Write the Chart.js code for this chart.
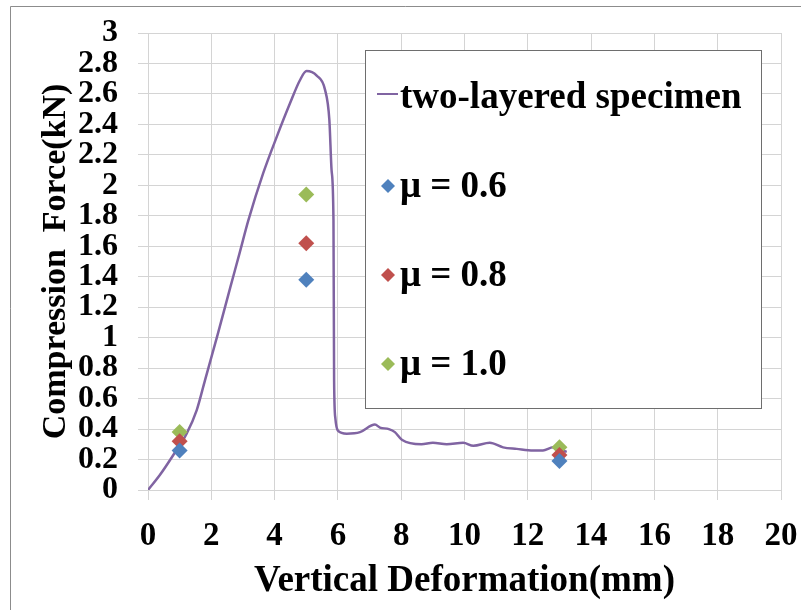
<!DOCTYPE html>
<html>
<head>
<meta charset="utf-8">
<script src="https://cdn.jsdelivr.net/npm/chart.js@4"></script>
<style>
  body { margin: 0; background: #fff; }
  #wrap { width: 801px; height: 610px; }
</style>
</head>
<body>
<div id="wrap"><canvas id="forceChart" width="801" height="610"></canvas></div>
<script>
// two-layered specimen curve (mm, kN)
const curveX = [0, 0.38, 0.8, 1.22, 1.54, 1.8, 2.2, 2.6, 2.9, 3.17, 3.64, 4.07, 4.49, 4.8, 5.01, 5.33, 5.59, 5.73, 5.8, 5.86, 5.88, 5.92, 6.0, 6.28, 6.7, 7.17, 7.33, 7.61, 7.8, 8.02, 8.64, 9.0, 9.44, 9.96, 10.28, 10.8, 11.22, 11.65, 12.17, 12.48, 12.8, 13.23];
const curveY = [0, 0.1, 0.23, 0.37, 0.525, 0.72, 1.02, 1.33, 1.56, 1.77, 2.08, 2.32, 2.54, 2.69, 2.75, 2.72, 2.63, 2.43, 2.1, 1.77, 0.72, 0.47, 0.39, 0.37, 0.38, 0.43, 0.41, 0.4, 0.38, 0.33, 0.3, 0.31, 0.3, 0.31, 0.29, 0.31, 0.28, 0.27, 0.26, 0.26, 0.28, 0.25];

// simulated points
const simX = [1, 5, 13];
const mu06 = [0.26, 1.38, 0.19];
const mu08 = [0.32, 1.62, 0.23];
const mu10 = [0.38, 1.94, 0.28];

const seriesNames = ['two-layered specimen', 'μ = 0.6', 'μ = 0.8', 'μ = 1.0'];
const seriesColors = ['#8064A2', '#4F81BD', '#C0504D', '#9BBB59'];

const xTitle = 'Vertical Deformation(mm)';
const yTitle = 'Compression  Force(kN)';

const toPoints = (xs, ys) => xs.map((x, i) => ({ x: x, y: ys[i] }));

const serif = "'Liberation Serif', 'Times New Roman', serif";

// frame around the whole chart (top and left edges visible)
const outerFrame = {
  id: 'outerFrame',
  beforeDraw(chart) {
    const ctx = chart.ctx;
    ctx.save();
    ctx.fillStyle = '#fff';
    ctx.fillRect(0, 0, chart.width, chart.height);
    ctx.strokeStyle = '#8c8c8c';
    ctx.lineWidth = 1;
    ctx.beginPath();
    ctx.moveTo(10.5, chart.height);
    ctx.lineTo(10.5, 6.5);
    ctx.lineTo(chart.width, 6.5);
    ctx.stroke();
    ctx.restore();
  }
};

// boxed legend drawn inside the plot
const legendBox = {
  id: 'legendBox',
  afterDatasetsDraw(chart) {
    const ctx = chart.ctx;
    ctx.save();
    ctx.fillStyle = '#fff';
    ctx.fillRect(365, 50, 396, 358);
    ctx.strokeStyle = '#6e6e6e';
    ctx.lineWidth = 1;
    ctx.strokeRect(365.5, 50.5, 396, 358);
    ctx.font = 'bold 37px ' + serif;
    ctx.textBaseline = 'middle';
    ctx.textAlign = 'left';
    chart.data.datasets.forEach((ds, i) => {
      const yc = 97 + i * 89;
      if (i === 0) {
        ctx.strokeStyle = ds.borderColor;
        ctx.lineWidth = 2;
        ctx.beginPath();
        ctx.moveTo(377, yc - 3);
        ctx.lineTo(398, yc - 3);
        ctx.stroke();
      } else {
        ctx.fillStyle = ds.backgroundColor;
        ctx.beginPath();
        ctx.moveTo(388, yc - 7);
        ctx.lineTo(395, yc);
        ctx.lineTo(388, yc + 7);
        ctx.lineTo(381, yc);
        ctx.closePath();
        ctx.fill();
      }
      ctx.fillStyle = '#000';
      ctx.fillText(ds.label, 400, yc + 1);
    });
    ctx.restore();
  }
};

const markerSet = (i, ys) => ({
  label: seriesNames[i],
  data: toPoints(simX, ys),
  pointStyle: 'rectRot',
  pointRadius: 8,
  pointHoverRadius: 8,
  borderWidth: 0,
  backgroundColor: seriesColors[i],
  borderColor: seriesColors[i],
  showLine: false,
  order: 0
});

new Chart(document.getElementById('forceChart').getContext('2d'), {
  type: 'scatter',
  data: {
    datasets: [
      {
        label: seriesNames[0],
        data: toPoints(curveX, curveY),
        showLine: true,
        borderColor: seriesColors[0],
        backgroundColor: seriesColors[0],
        borderWidth: 2.5,
        pointRadius: 0,
        cubicInterpolationMode: 'monotone',
        order: 1
      },
      markerSet(1, mu06),
      markerSet(2, mu08),
      markerSet(3, mu10)
    ]
  },
  options: {
    responsive: false,
    animation: false,
    layout: { padding: { left: 10, top: 33, right: 20, bottom: 0 } },
    plugins: {
      legend: { display: false },
      tooltip: { enabled: false }
    },
    scales: {
      x: {
        type: 'linear',
        min: 0,
        max: 20,
        afterFit: s => { s.height = 120; s.paddingLeft = 0; s.paddingRight = 0; },
        ticks: {
          stepSize: 2,
          autoSkip: false,
          maxRotation: 0,
          color: '#000',
          padding: 17,
          font: { family: serif, size: 33, weight: 'bold' }
        },
        grid: { color: '#d4d4d4', tickLength: 10 },
        border: { color: '#d4d4d4' },
        title: {
          display: true,
          text: xTitle,
          color: '#000',
          padding: { top: 0, bottom: 6 },
          font: { family: serif, size: 37, weight: 'bold' }
        }
      },
      y: {
        type: 'linear',
        min: 0,
        max: 3,
        afterFit: s => { s.width = 138; s.paddingTop = 0; s.paddingBottom = 0; },
        ticks: {
          stepSize: 0.2,
          autoSkip: false,
          color: '#000',
          padding: 20,
          callback: v => String(+v.toFixed(1)),
          font: { family: serif, size: 32, weight: 'bold' }
        },
        grid: { color: '#d4d4d4', tickLength: 10 },
        border: { color: '#d4d4d4' },
        title: {
          display: true,
          text: yTitle,
          color: '#000',
          padding: { top: 26, bottom: 0 },
          font: { family: serif, size: 34, weight: 'bold' }
        }
      }
    }
  },
  plugins: [outerFrame, legendBox]
});
</script>
</body>
</html>
